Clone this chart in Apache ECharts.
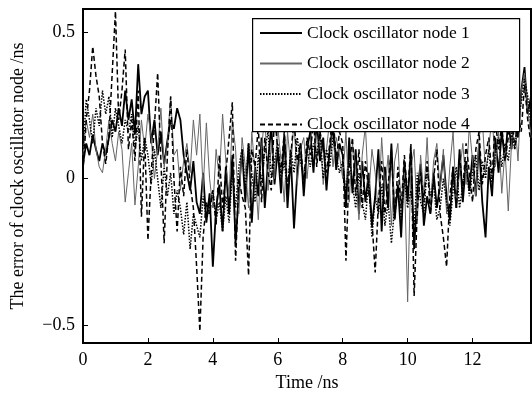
<!DOCTYPE html>
<html>
<head>
<meta charset="utf-8">
<script src="https://cdn.jsdelivr.net/npm/echarts@6/dist/echarts.min.js"></script>
<style>
  html, body { margin: 0; padding: 0; background: #fff; }
  #chart { width: 532px; height: 393px; }
</style>
</head>
<body>
<div id="chart"></div>
<script>
// sample step of the time axis (ns)
const dt = 0.1
const xTicks = [0, 2, 4, 6, 8, 10, 12]
const yTicks = [-0.5, 0, 0.5]
const seriesNames = ['Clock oscillator node 1', 'Clock oscillator node 2', 'Clock oscillator node 3', 'Clock oscillator node 4']

// values, one per 0.1 ns
const node1 = [
  0.05, 0.12, 0.08, 0.15, 0.1, 0.06, 0.12, 0.08, 0.14, 0.2,
  0.16, 0.24, 0.18, 0.3, 0.2, 0.27, 0.15, 0.39, 0.22, 0.28,
  0.3, 0.12, 0.2, 0.08, 0.16, 0.05, 0.13, 0.2, 0.17, 0.24,
  0.2, 0.08, 0.02, -0.04, 0.06, -0.08, -0.12, 0.02, -0.15, -0.05,
  -0.3, -0.1, -0.02, -0.18, 0.04, -0.12, 0.08, -0.22, -0.05, 0.1,
  -0.08, 0.12, -0.15, 0.04, -0.06, 0.14, -0.1, 0.06, 0.18, -0.02,
  0.1, -0.05, 0.15, -0.1, 0.08, -0.17, 0.02, 0.12, -0.06, 0.1,
  0.16, 0.02, 0.2, 0.06, 0.14, -0.04, 0.1, 0.18, 0.03, 0.12,
  0.08, -0.1, 0.14, -0.05, 0.1, -0.12, 0.06, -0.08, 0.02, -0.16,
  -0.06, 0.1, -0.18, 0.04, -0.1, 0.12, -0.14, -0.02, -0.2, 0.06,
  -0.08, 0.1, -0.24, -0.04, 0.05, -0.16, -0.06, -0.12, 0.02, -0.1,
  -0.02, 0.08, -0.06, -0.14, 0.04, -0.1, 0.1, -0.08, 0.06, -0.04,
  0.08, -0.06, 0.12, -0.08, -0.2, 0.04, -0.06, 0.14, 0.02, 0.16,
  0.06, 0.2, 0.1, 0.24, 0.14, 0.3, 0.38, 0.22, 0.28
]
const node2 = [
  0.08, 0.2, 0.14, 0.22, 0.1, 0.04, 0.02, 0.1, 0.2, 0.12,
  0.06, 0.16, 0.1, -0.08, 0.02, 0.12, -0.09, 0.04, 0.2, 0.1,
  0.22, 0.14, 0.0, 0.1, 0.24, 0.04, 0.12, 0.28, 0.08, 0.1,
  -0.04, 0.06, 0.12, 0.02, 0.2, 0.08, 0.22, -0.04, 0.19, 0.0,
  -0.1, 0.1, 0.0, 0.22, 0.06, -0.06, 0.2, 0.1, -0.12, 0.14,
  0.04, -0.1, 0.16, 0.02, -0.14, 0.1, 0.22, -0.04, 0.12, 0.0,
  0.18, 0.06, -0.08, 0.16, 0.04, 0.2, -0.02, 0.1, 0.14, 0.0,
  0.12, 0.22, 0.06, 0.16, -0.02, 0.1, 0.2, 0.04, 0.14, 0.08,
  0.0, 0.16, -0.08, 0.12, 0.04, -0.14, 0.08, 0.18, -0.06, 0.1,
  0.02, -0.12, 0.14, -0.04, 0.08, -0.16, 0.06, 0.12, -0.1, 0.02,
  -0.42, 0.04, 0.1, -0.14, 0.08, -0.06, 0.14, -0.1, 0.06, 0.12,
  -0.04, 0.1, -0.12, 0.04, 0.16, -0.08, 0.02, 0.12, -0.02, 0.18,
  0.06, -0.06, 0.14, 0.2, 0.02, 0.1, 0.22, 0.04, 0.16, -0.05,
  0.1, -0.11, 0.12, 0.2, 0.06, 0.3, 0.36, 0.24, 0.14
]
const node3 = [
  0.1, 0.27, 0.2, 0.12, 0.24, 0.18, 0.3, 0.22, 0.28, 0.14,
  0.24, 0.18, 0.12, 0.2, 0.16, 0.22, 0.1, 0.18, 0.06, 0.14,
  0.08, -0.02, 0.1, 0.0, -0.1, 0.04, -0.06, 0.02, -0.12, -0.04,
  -0.1, -0.19, -0.08, -0.24, -0.12, -0.16, -0.2, -0.06, -0.14, -0.1,
  -0.04, -0.14, -0.08, -0.18, -0.06, -0.15, 0.02, -0.1, 0.04, 0.1,
  -0.04, 0.12, 0.02, -0.08, 0.08, -0.02, 0.1, 0.16, 0.0, 0.06,
  0.12, 0.0, 0.06, -0.04, 0.1, 0.02, 0.14, 0.06, 0.0, 0.1,
  0.04, 0.12, 0.08, 0.16, 0.0, 0.1, 0.04, 0.14, 0.08, 0.02,
  0.06, -0.06, 0.08, -0.02, -0.1, 0.02, -0.08, -0.14, 0.0, -0.2,
  -0.06, -0.12, -0.02, -0.16, -0.08, -0.22, -0.1, -0.04, -0.14, 0.0,
  -0.1, -0.04, -0.16, 0.02, -0.08, -0.12, 0.04, -0.06, -0.02, -0.14,
  -0.1, 0.0, -0.08, -0.16, -0.04, 0.04, -0.1, -0.02, 0.06, -0.06,
  0.02, 0.08, -0.04, 0.06, 0.0, 0.1, -0.02, 0.08, 0.14, 0.04,
  0.12, 0.06, 0.16, 0.1, 0.2, 0.26, 0.34, 0.28, 0.18
]
const node4 = [
  0.02, 0.2, 0.3, 0.45, 0.35, 0.28, 0.12, 0.05, 0.15, 0.36,
  0.57, 0.2, 0.3, 0.44, 0.1, 0.2, 0.06, 0.3, -0.13, 0.14,
  -0.21, 0.02, 0.18, 0.36, 0.06, -0.22, 0.08, 0.28, 0.0, -0.18,
  0.04, -0.06, 0.1, -0.02, -0.1, -0.3, -0.52, -0.2, -0.08, -0.12,
  -0.04, -0.16, 0.08, -0.1, 0.02, 0.14, 0.26, -0.28, 0.0, -0.06,
  -0.1, -0.33, 0.1, 0.04, 0.18, -0.08, 0.14, 0.02, -0.04, 0.22,
  0.1, 0.02, 0.16, -0.04, 0.08, 0.2, 0.06, 0.12, -0.02, 0.14,
  0.08, 0.2, 0.04, 0.16, 0.1, 0.02, 0.12, 0.22, 0.06, 0.16,
  0.12, -0.28, 0.04, 0.14, -0.06, 0.1, -0.1, 0.06, -0.04, -0.14,
  -0.32, -0.08, 0.06, -0.12, -0.02, 0.1, -0.14, 0.04, -0.1, 0.08,
  -0.06, 0.12, -0.4, -0.1, 0.02, -0.08, 0.06, -0.12, 0.0, 0.1,
  -0.12, -0.2, -0.3, -0.06, 0.04, -0.1, 0.08, -0.04, 0.12, 0.02,
  -0.08, 0.1, 0.16, -0.02, 0.08, 0.14, 0.0, 0.2, 0.1, 0.18,
  0.06, 0.14, 0.24, 0.1, 0.22, 0.16, 0.32, 0.2, 0.12
]

const times = node1.map((v, i) => +(i * dt).toFixed(1))
const pairs = arr => times.map((t, i) => [t, arr[i]])

const font = 'Liberation Serif'
let EChart = echarts.init(document.getElementById('chart'))
let option = {
  animation: false,
  backgroundColor: '#fff',
  grid: {
    left: 83, right: 1, top: 9, bottom: 50,
    outerBoundsMode: 'none',
    show: true, borderColor: '#000', borderWidth: 2
  },
  legend: {
    orient: 'vertical',
    left: 253, top: 20,
    itemWidth: 42, itemHeight: 14, itemGap: 12.5,
    padding: [4, 8, 4, 6],
    z: 20,
    // hide the marker dot, keep only the line sample
    itemStyle: { color: 'transparent', borderColor: 'transparent', borderWidth: 0 },
    textStyle: { fontFamily: font, fontSize: 17.5, color: '#000' },
    data: seriesNames
  },
  // white legend box drawn under the legend, above the curves
  graphic: [{
    type: 'rect', left: 252, top: 18, z: 15,
    shape: { width: 267, height: 113 },
    style: { fill: '#fff', stroke: '#000', lineWidth: 1.2 }
  }],
  xAxis: {
    type: 'value', min: 0, max: 13.8,
    name: 'Time /ns', nameLocation: 'middle', nameGap: 29,
    nameTextStyle: { fontFamily: font, fontSize: 18, color: '#000' },
    axisLine: { onZero: false, lineStyle: { color: '#000', width: 2 } },
    axisTick: { inside: true, length: 5, customValues: xTicks, lineStyle: { color: '#000' } },
    axisLabel: { customValues: xTicks, fontFamily: font, fontSize: 18, color: '#000', margin: 8 },
    splitLine: { show: false }
  },
  yAxis: {
    type: 'value', min: -0.56, max: 0.578,
    name: 'The error of clock oscillator node /ns', nameLocation: 'middle', nameGap: 56,
    nameTextStyle: { fontFamily: font, fontSize: 18, color: '#000' },
    axisLine: { show: true, onZero: false, lineStyle: { color: '#000', width: 2 } },
    axisTick: { show: true, inside: true, length: 5, customValues: yTicks, lineStyle: { color: '#000' } },
    axisLabel: {
      customValues: yTicks, fontFamily: font, fontSize: 18, color: '#000', margin: 8,
      formatter: v => v < 0 ? '\u2212' + Math.abs(v) : String(v)
    },
    splitLine: { show: false }
  },
  series: [
    {
      name: seriesNames[0], type: 'line', symbol: 'none', data: pairs(node1),
      lineStyle: { color: '#000', width: 1.8 }, itemStyle: { color: '#000' }
    },
    {
      name: seriesNames[1], type: 'line', symbol: 'none', data: pairs(node2),
      lineStyle: { color: '#666', width: 1 }, itemStyle: { color: '#666' }
    },
    {
      name: seriesNames[2], type: 'line', symbol: 'none', data: pairs(node3),
      lineStyle: { color: '#000', width: 1.5, type: [1.5, 1.5] }, itemStyle: { color: '#000' }
    },
    {
      name: seriesNames[3], type: 'line', symbol: 'none', data: pairs(node4),
      lineStyle: { color: '#000', width: 1.5, type: [5, 3] }, itemStyle: { color: '#000' }
    }
  ]
}
EChart.setOption(option)
</script>
</body>
</html>
